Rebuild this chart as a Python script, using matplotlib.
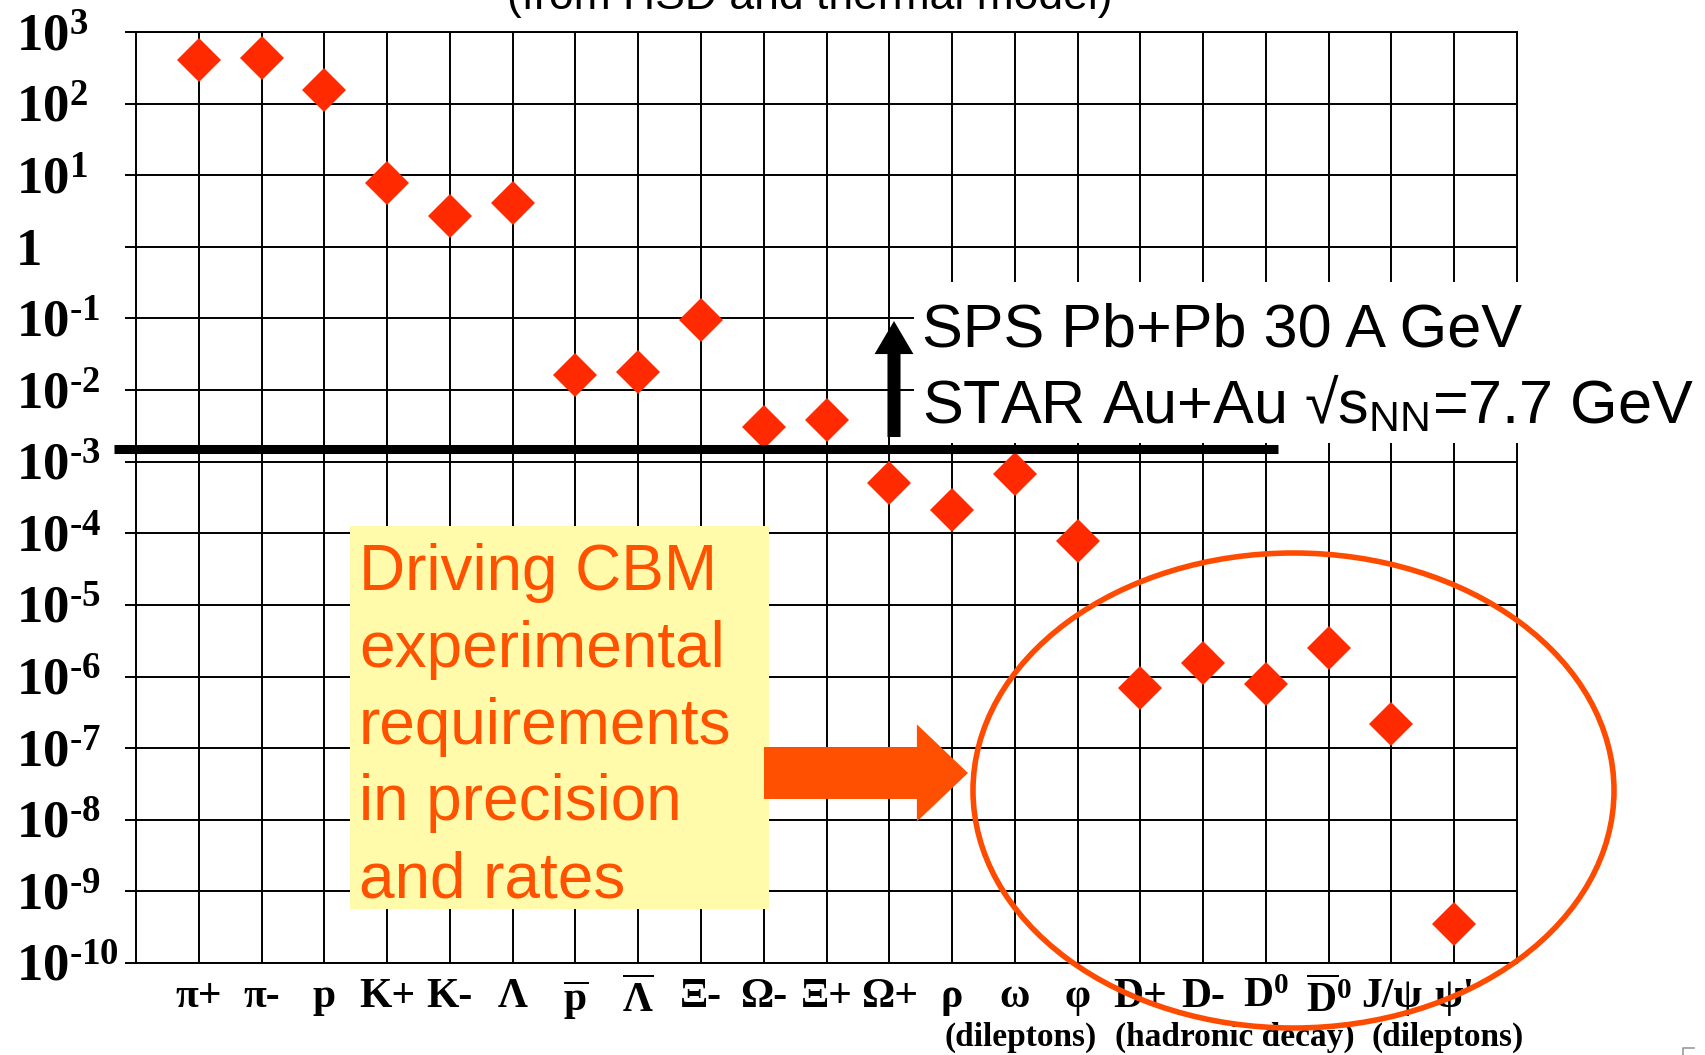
import numpy as np
import matplotlib
matplotlib.use('Agg')
import matplotlib.pyplot as plt
from matplotlib.patches import Ellipse, Rectangle, FancyArrowPatch
from matplotlib.lines import Line2D
from matplotlib.transforms import blended_transform_factory

# particle yields (from HSD and thermal model)
particles = ['π+', 'π-', 'p', 'K+', 'K-', 'Λ',
             r'$\overline{\mathregular{p}}$', r'$\overline{\mathregular{Λ}}$',
             'Ξ-', 'Ω-', 'Ξ+', 'Ω+', 'ρ', 'ω', 'φ', 'D+', 'D-',
             r'D$^{\mathregular{0}}$', r'$\overline{\mathregular{D}}^{\mathregular{0}}$',
             'J/ψ', "ψ'"]
yields = [400, 430, 155, 7.7, 2.7, 4.1, 0.0165, 0.0177, 0.094, 0.0031, 0.0038,
          5.0e-4, 2.1e-4, 6.8e-4, 7.8e-5, 7.0e-7, 1.55e-6, 7.9e-7, 2.5e-6,
          2.2e-7, 3.5e-10]
decades = list(range(-10, 4))
decade_labels = []
for d in decades:
    if d == 0:
        decade_labels.append('1')
    elif d > 0:
        decade_labels.append('$\\mathregular{10^{%d}}$' % d)
    else:
        decade_labels.append('$\\mathregular{10^{\\text{-}%d}}$' % -d)
groups = ['(dileptons)', '(hadronic decay)', '(dileptons)']
group_x = [14.1, 17.5, 20.9]

plt.rcParams['mathtext.fontset'] = 'custom'
plt.rcParams['mathtext.rm'] = 'Liberation Serif:bold'
plt.rcParams['mathtext.it'] = 'Liberation Serif:bold'
plt.rcParams['mathtext.bf'] = 'Liberation Serif:bold'
plt.rcParams['axes.unicode_minus'] = False

W, H = 1705, 1055


def fx(px):
    return px / W


def fy(py):
    return 1 - py / H


fig = plt.figure(figsize=(17.05, 10.55), dpi=100)
ax = fig.add_axes([fx(136), fy(963), fx(1517) - fx(136), fy(32) - fy(963)])

x = np.arange(1, len(particles) + 1)
ax.plot(x, yields, linestyle='none', marker='D', ms=22, color='#ff2a00',
        markeredgewidth=0, zorder=3)

ax.set_yscale('log')
ax.set_ylim(1e-10, 1e3)
ax.set_xlim(0, 22)
ax.set_yticks([10.0 ** d for d in decades])
ax.set_yticklabels(decade_labels)
ax.yaxis.set_minor_locator(matplotlib.ticker.NullLocator())
ax.set_xticks(x)
ax.set_xticklabels(particles)
ax.grid(True, color='black', lw=1.4)
for s in ax.spines.values():
    s.set_linewidth(1.4)
ax.tick_params(axis='y', length=8, width=1.4, pad=78.5)
ax.tick_params(axis='x', length=0, pad=11)
for lab in ax.get_yticklabels():
    lab.set_fontfamily('Liberation Serif')
    lab.set_fontweight('bold')
    lab.set_fontsize(38)
    lab.set_horizontalalignment('left')
for lab in ax.get_xticklabels():
    lab.set_fontfamily('Liberation Serif')
    lab.set_fontweight('bold')
    lab.set_fontsize(30)

grp_trans = blended_transform_factory(ax.transData, fig.transFigure)
for g, gx in zip(groups, group_x):
    ax.text(gx, fy(1037), g, transform=grp_trans, ha='center', va='center',
            fontsize=24, family='Liberation Serif', fontweight='bold', clip_on=False)

# cut-off title at the top
fig.text(fx(810), fy(9), '(from HSD and thermal model)', ha='center', va='baseline',
         fontsize=32, family='Liberation Sans')

# threshold line and arrow
fig.add_artist(Rectangle((fx(914), fy(443)), fx(1705) - fx(914), fy(282) - fy(443),
                         transform=fig.transFigure, facecolor='white', edgecolor='none',
                         zorder=3))
fig.add_artist(Line2D([fx(114), fx(1278)], [fy(449), fy(449)], transform=fig.transFigure,
                      color='black', lw=6.5, solid_capstyle='butt', zorder=4))
fig.add_artist(FancyArrowPatch((fx(894), fy(437)), (fx(894), fy(321)), transform=fig.transFigure,
                               arrowstyle='simple,head_length=1.19,head_width=1.4,tail_width=0.47',
                               mutation_scale=20, color='black', lw=0, shrinkA=0, shrinkB=0,
                               zorder=4))
fig.text(fx(922), fy(346), 'SPS Pb+Pb 30 A GeV', ha='left', va='baseline',
         fontsize=44, family='Liberation Sans', zorder=5)
fig.text(fx(922), fy(424), 'STAR Au+Au √s$_{\\mathregular{NN}}$=7.7 GeV', ha='left',
         va='baseline', fontsize=44, family='Liberation Sans', zorder=5)

# CBM box
fig.add_artist(Rectangle((fx(350), fy(909)), fx(769) - fx(350), fy(526) - fy(909),
                         transform=fig.transFigure, facecolor='#fffbaa', edgecolor='none',
                         zorder=3))
box_lines = ['Driving CBM', 'experimental', 'requirements', 'in precision', 'and rates']
for i, line in enumerate(box_lines):
    fig.text(fx(359), fy(590 + i * 76.8), line, ha='left', va='baseline', fontsize=46,
             family='Liberation Sans', color='#ff5200', zorder=4)

fig.add_artist(FancyArrowPatch((fx(764), fy(773)), (fx(968), fy(773)), transform=fig.transFigure,
                               arrowstyle='simple,head_length=0.92,head_width=1.75,tail_width=0.935',
                               mutation_scale=40, color='#ff4f00', lw=0, shrinkA=0, shrinkB=0,
                               zorder=3))
fig.add_artist(Ellipse((fx(1293.5), fy(790.5)), fx(641), 475 / H, transform=fig.transFigure,
                       facecolor='none', edgecolor='#ff4b00', lw=4, zorder=4))

# small corner mark
fig.add_artist(Line2D([fx(1683), fx(1683), fx(1694)], [fy(1056), fy(1048), fy(1048)],
                      transform=fig.transFigure, color='#999999', lw=1.2))

fig.savefig('out.png', dpi=100)
